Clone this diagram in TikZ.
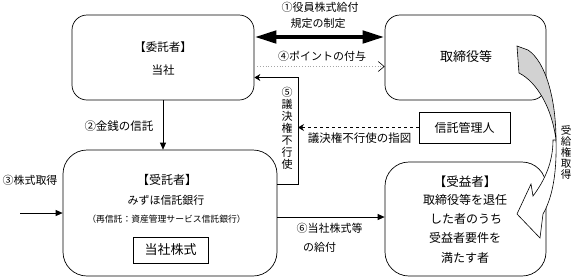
\documentclass[tikz,border=0pt]{standalone}
\usepackage{fontspec}
\setmainfont{Noto Sans CJK JP}
\usetikzlibrary{arrows.meta,calc}
\newcommand{\fs}[1]{\fontsize{#1}{#1}\selectfont}
\begin{document}
\begin{tikzpicture}[x=1pt,y=-1pt,
  box/.style={draw,line width=0.7pt,inner sep=0pt},
  txt/.style={inner sep=0pt,align=center},
  conn/.style={line width=0.7pt},
  fhead/.style={-{Triangle[length=7pt,width=6pt]}},
  shead/.style={-{Stealth[length=6pt,width=7pt,inset=2pt]}}]
\useasboundingbox (0,0) rectangle (574,277);
% boxes
\node[box,rounded corners=15pt,minimum width=182pt,minimum height=85pt] (itaku) at (163,57.5) {};
\node[box,rounded corners=15pt,minimum width=161pt,minimum height=85pt] (tori) at (465.5,57.5) {};
\node[box,rounded corners=24pt,minimum width=214pt,minimum height=126pt] (jutaku) at (170,213) {};
\node[box,rounded corners=24pt,minimum width=161pt,minimum height=114pt] (juek) at (465.5,219) {};
\node[box,minimum width=91pt,minimum height=31pt,font=\fs{12}] (kanri) at (464.5,127.5) {信託管理人};
\node[box,minimum width=75pt,minimum height=26pt,font=\fs{13}] (kabu) at (170.5,250) {当社株式};
% texts
\node[txt,font=\fs{11.5}] (t1) at (163,47) {【委託者】};
\node[txt,font=\fs{11.5}] (t2) at (163,70) {当社};
\node[txt,font=\fs{13}] (t3) at (466,57) {取締役等};
\node[txt,font=\fs{11}] (t4) at (320,7) {①役員株式給付};
\node[txt,font=\fs{11}] (t5) at (318,23) {規定の制定};
\node[txt,font=\fs{11}] (t6) at (322,56) {④ポイントの付与};
\node[txt,font=\fontsize{11}{12}\selectfont] (t7) at (287,128.5) {⑤\\議\\決\\権\\不\\行\\使};
\node[txt,font=\fs{11.5}] (t8) at (359.5,138.5) {議決権不行使の指図};
\node[txt,font=\fs{11.5}] (t9) at (119,126) {②金銭の信託};
\node[txt,font=\fs{11}] (t10) at (30,180) {③株式取得};
\node[txt,font=\fs{12}] (t11) at (167,180) {【受託者】};
\node[txt,font=\fs{11}] (t12) at (166,200) {みずほ信託銀行};
\node[txt,font=\fs{8.8}] (t13) at (166.5,219) {（再信託：資産管理サービス信託銀行）};
\node[txt,font=\fs{12.5}] (t14) at (465,182) {【受益者】};
\node[txt,font=\fs{12}] (t15) at (465,200) {取締役等を退任};
\node[txt,font=\fs{12}] (t16) at (466,219) {した者のうち};
\node[txt,font=\fs{12}] (t17) at (465,238) {受益者要件を};
\node[txt,font=\fs{12}] (t18) at (465,258) {満たす者};
\node[txt,font=\fs{11}] (t19) at (329.5,228) {⑥当社株式等};
\node[txt,font=\fs{11}] (t20) at (319.5,247) {の給付};
\node[txt,font=\fontsize{10.5}{11}\selectfont] (t21) at (566,152) {受\\給\\権\\取\\得};
% coordinates
\coordinate (y1) at (0,37);
\coordinate (y4) at (0,66.5);
\coordinate (y5) at (0,77.5);
\coordinate (x5) at (298,0);
\coordinate (y5b) at (0,184);
\coordinate (s3) at (20,213);
\coordinate (y6) at (0,217);
% connectors
\draw[line width=4.5pt,{Triangle[length=22pt,width=12pt]}-{Triangle[length=22pt,width=12pt]}]
  (itaku.east |- y1) -- (tori.west |- y1);
\draw[gray!70,line width=0.8pt,dotted,-{Straight Barb[length=6pt,width=10pt,color=black,line width=0.6pt]}]
  (itaku.east |- y4) -- (tori.west |- y4);
\draw[conn,shead] (jutaku.east |- y5b) -- (x5 |- y5b) -- (x5 |- y5) -- (itaku.east |- y5);
\draw[conn,dashed,shead] (kanri.west) -- (x5 |- kanri.west);
\draw[conn,fhead] (itaku.south) -- (itaku.south |- jutaku.north);
\draw[conn,fhead] (s3) -- (jutaku.west |- s3);
\draw[conn,fhead] (jutaku.east |- y6) -- (juek.west |- y6);
% curved arrow
\filldraw[fill=gray!35,draw=black,line width=0.6pt]
  (517,46) -- (519,73) .. controls (537,82) and (552,108) .. (556,140)
  .. controls (556,100) and (546,62) .. (528,50) -- cycle;
\filldraw[fill=white,draw=black,line width=0.6pt]
  (556,140) .. controls (557,178) and (551,200) .. (543,214)
  -- (540,238) -- (517,214) -- (531,184) -- (533,196)
  .. controls (545,180) and (553,162) .. (553,140) -- cycle;
\end{tikzpicture}
\end{document}
